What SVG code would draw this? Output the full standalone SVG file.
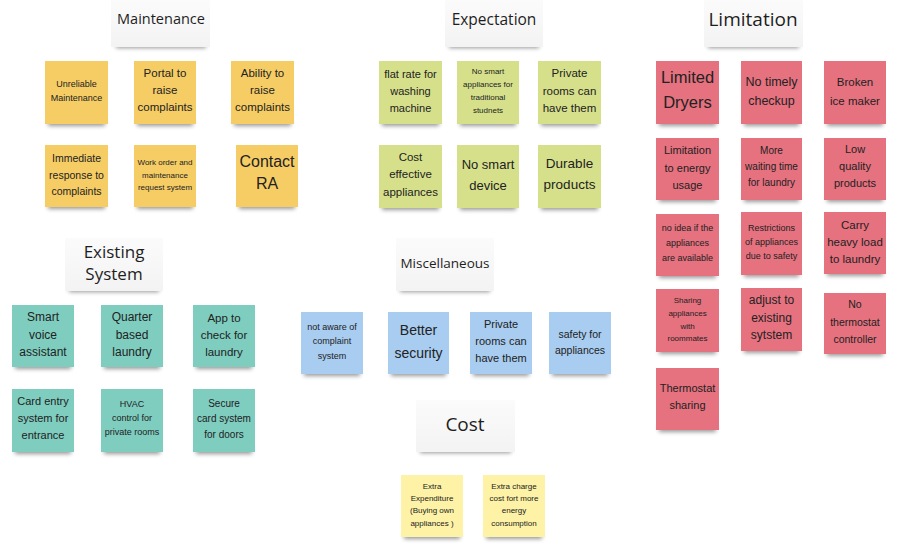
<svg xmlns="http://www.w3.org/2000/svg" width="899" height="545" viewBox="0 0 899 545">
<defs>
<filter id="blur" x="-20%" y="-100%" width="140%" height="300%"><feGaussianBlur stdDeviation="2.2"/></filter>
<linearGradient id="hg" x1="0" y1="0" x2="0" y2="1"><stop offset="0" stop-color="#fbfbfb"/><stop offset="1" stop-color="#f3f3f3"/></linearGradient>
</defs>
<style>
.sh{fill:#000;opacity:.4;filter:url(#blur)}
.hd{fill:url(#hg)}
.ht{font-family:"Open Sans","Noto Sans",sans-serif;fill:#1e1e1e;text-anchor:middle}
.nt{font-family:"Liberation Sans","DejaVu Sans",sans-serif;fill:#222;text-anchor:middle}
.m{fill:#f6cd65}
.e{fill:#d6e08b}
.l{fill:#e6717f}
.x{fill:#7ecdbf}
.b{fill:#a8cdf1}
.c{fill:#fdf2a6}
</style>
<rect width="899" height="545" fill="#ffffff"/>

<!-- Headers -->
<g id="h-maintenance"><rect class="sh" x="116" y="42" width="90" height="6"/><rect class="hd" x="111" y="0" width="99" height="47"/><text class="ht" x="161" y="24" font-size="14.5">Maintenance</text></g>
<g id="h-expectation"><rect class="sh" x="449" y="42" width="90" height="6"/><rect class="hd" x="445" y="0" width="98" height="47"/><text class="ht" x="494" y="25" font-size="15.5">Expectation</text></g>
<g id="h-limitation"><rect class="sh" x="708" y="42" width="91" height="6"/><rect class="hd" x="704" y="0" width="99" height="47"/><text class="ht" x="753" y="26" font-size="19">Limitation</text></g>
<g id="h-existing"><rect class="sh" x="69" y="286" width="90" height="6"/><rect class="hd" x="65" y="238" width="98" height="53"/><text class="ht" x="114" y="258" font-size="17">Existing</text><text class="ht" x="114" y="280" font-size="17">System</text></g>
<g id="h-misc"><rect class="sh" x="400" y="286" width="90" height="6"/><rect class="hd" x="396" y="238" width="98" height="53"/><text class="ht" x="445" y="268" font-size="13.5">Miscellaneous</text></g>
<g id="h-cost"><rect class="sh" x="420" y="447" width="91" height="6"/><rect class="hd" x="416" y="400" width="99" height="52"/><text class="ht" x="465" y="431" font-size="19">Cost</text></g>

<!-- Maintenance -->
<g id="m1"><rect class="sh" x="48" y="119" width="57" height="7"/><rect class="m" x="45" y="61" width="63" height="63"/><text class="nt" font-size="9"><tspan x="76.5" y="87">Unreliable</tspan><tspan x="76.5" y="101">Maintenance</tspan></text></g>
<g id="m2"><rect class="sh" x="137" y="119" width="56" height="7"/><rect class="m" x="134" y="61" width="62" height="63"/><text class="nt" font-size="11.5"><tspan x="165" y="77">Portal to</tspan><tspan x="165" y="94">raise</tspan><tspan x="165" y="111">complaints</tspan></text></g>
<g id="m3"><rect class="sh" x="234" y="119" width="57" height="7"/><rect class="m" x="231" y="61" width="63" height="63"/><text class="nt" font-size="11.5"><tspan x="262.5" y="77">Ability to</tspan><tspan x="262.5" y="94">raise</tspan><tspan x="262.5" y="111">complaints</tspan></text></g>
<g id="m4"><rect class="sh" x="48" y="202" width="57" height="7"/><rect class="m" x="45" y="145" width="63" height="62"/><text class="nt" font-size="10.5"><tspan x="76.5" y="162">Immediate</tspan><tspan x="76.5" y="179">response to</tspan><tspan x="76.5" y="195">complaints</tspan></text></g>
<g id="m5"><rect class="sh" x="137" y="202" width="56" height="7"/><rect class="m" x="134" y="145" width="62" height="62"/><text class="nt" font-size="8"><tspan x="165" y="165">Work order and</tspan><tspan x="165" y="178">maintenance</tspan><tspan x="165" y="190">request system</tspan></text></g>
<g id="m6"><rect class="sh" x="239" y="202" width="56" height="7"/><rect class="m" x="236" y="145" width="62" height="62"/><text class="nt" font-size="16"><tspan x="267" y="167">Contact</tspan><tspan x="267" y="189">RA</tspan></text></g>

<!-- Expectation -->
<g id="e1"><rect class="sh" x="382" y="119" width="57" height="7"/><rect class="e" x="379" y="61" width="63" height="63"/><text class="nt" font-size="11"><tspan x="410.5" y="78">flat rate for</tspan><tspan x="410.5" y="95">washing</tspan><tspan x="410.5" y="112">machine</tspan></text></g>
<g id="e2"><rect class="sh" x="460" y="119" width="56" height="7"/><rect class="e" x="457" y="61" width="62" height="63"/><text class="nt" font-size="8"><tspan x="488" y="74">No smart</tspan><tspan x="488" y="87">appliances for</tspan><tspan x="488" y="100">traditional</tspan><tspan x="488" y="113">studnets</tspan></text></g>
<g id="e3"><rect class="sh" x="541" y="119" width="57" height="7"/><rect class="e" x="538" y="61" width="63" height="63"/><text class="nt" font-size="11.5"><tspan x="569.5" y="77">Private</tspan><tspan x="569.5" y="95">rooms can</tspan><tspan x="569.5" y="112">have them</tspan></text></g>
<g id="e4"><rect class="sh" x="382" y="203" width="57" height="7"/><rect class="e" x="379" y="145" width="63" height="63"/><text class="nt" font-size="11.5"><tspan x="410.5" y="161">Cost</tspan><tspan x="410.5" y="178">effective</tspan><tspan x="410.5" y="196">appliances</tspan></text></g>
<g id="e5"><rect class="sh" x="460" y="203" width="56" height="7"/><rect class="e" x="457" y="145" width="62" height="63"/><text class="nt" font-size="13"><tspan x="488" y="169">No smart</tspan><tspan x="488" y="190">device</tspan></text></g>
<g id="e6"><rect class="sh" x="541" y="203" width="57" height="7"/><rect class="e" x="538" y="145" width="63" height="63"/><text class="nt" font-size="13.5"><tspan x="569.5" y="168">Durable</tspan><tspan x="569.5" y="189">products</tspan></text></g>

<!-- Limitation -->
<g id="l1"><rect class="sh" x="659" y="119" width="57" height="7"/><rect class="l" x="656" y="61" width="63" height="63"/><text class="nt" font-size="16.5"><tspan x="687.5" y="83">Limited</tspan><tspan x="687.5" y="108">Dryers</tspan></text></g>
<g id="l2"><rect class="sh" x="744" y="119" width="55" height="7"/><rect class="l" x="741" y="61" width="61" height="63"/><text class="nt" font-size="12.5"><tspan x="771.5" y="86">No timely</tspan><tspan x="771.5" y="105">checkup</tspan></text></g>
<g id="l3"><rect class="sh" x="827" y="119" width="56" height="7"/><rect class="l" x="824" y="61" width="62" height="63"/><text class="nt" font-size="11.5"><tspan x="855" y="86">Broken</tspan><tspan x="855" y="105">ice maker</tspan></text></g>
<g id="l4"><rect class="sh" x="659" y="195" width="57" height="7"/><rect class="l" x="656" y="138" width="63" height="62"/><text class="nt" font-size="11"><tspan x="687.5" y="154">Limitation</tspan><tspan x="687.5" y="172">to energy</tspan><tspan x="687.5" y="189">usage</tspan></text></g>
<g id="l5"><rect class="sh" x="744" y="195" width="55" height="7"/><rect class="l" x="741" y="138" width="61" height="62"/><text class="nt" font-size="10"><tspan x="771.5" y="154">More</tspan><tspan x="771.5" y="170">waiting time</tspan><tspan x="771.5" y="186">for laundry</tspan></text></g>
<g id="l6"><rect class="sh" x="827" y="195" width="56" height="7"/><rect class="l" x="824" y="138" width="62" height="62"/><text class="nt" font-size="11"><tspan x="855" y="153">Low</tspan><tspan x="855" y="170">quality</tspan><tspan x="855" y="187">products</tspan></text></g>
<g id="l7"><rect class="sh" x="659" y="271" width="57" height="7"/><rect class="l" x="656" y="214" width="63" height="62"/><text class="nt" font-size="9"><tspan x="687.5" y="231">no idea if the</tspan><tspan x="687.5" y="246">appliances</tspan><tspan x="687.5" y="261">are available</tspan></text></g>
<g id="l8"><rect class="sh" x="744" y="270" width="55" height="7"/><rect class="l" x="741" y="212" width="61" height="63"/><text class="nt" font-size="9"><tspan x="771.5" y="231">Restrictions</tspan><tspan x="771.5" y="245">of appliances</tspan><tspan x="771.5" y="259">due to safety</tspan></text></g>
<g id="l9"><rect class="sh" x="827" y="269" width="56" height="7"/><rect class="l" x="824" y="212" width="62" height="62"/><text class="nt" font-size="11.5"><tspan x="855" y="229">Carry</tspan><tspan x="855" y="246">heavy load</tspan><tspan x="855" y="263">to laundry</tspan></text></g>
<g id="l10"><rect class="sh" x="659" y="347" width="57" height="7"/><rect class="l" x="656" y="289" width="63" height="63"/><text class="nt" font-size="8"><tspan x="687.5" y="303">Sharing</tspan><tspan x="687.5" y="316">appliances</tspan><tspan x="687.5" y="329">with</tspan><tspan x="687.5" y="341">roommates</tspan></text></g>
<g id="l11"><rect class="sh" x="744" y="346" width="55" height="7"/><rect class="l" x="741" y="288" width="61" height="63"/><text class="nt" font-size="12"><tspan x="771.5" y="304">adjust to</tspan><tspan x="771.5" y="322">existing</tspan><tspan x="771.5" y="339">sytstem</tspan></text></g>
<g id="l12"><rect class="sh" x="827" y="349" width="56" height="7"/><rect class="l" x="824" y="293" width="62" height="61"/><text class="nt" font-size="10.5"><tspan x="855" y="308">No</tspan><tspan x="855" y="326">thermostat</tspan><tspan x="855" y="343">controller</tspan></text></g>
<g id="l13"><rect class="sh" x="659" y="425" width="57" height="7"/><rect class="l" x="656" y="368" width="63" height="62"/><text class="nt" font-size="11"><tspan x="687.5" y="392">Thermostat</tspan><tspan x="687.5" y="409">sharing</tspan></text></g>

<!-- Existing System -->
<g id="x1"><rect class="sh" x="15" y="362" width="56" height="7"/><rect class="x" x="12" y="305" width="62" height="62"/><text class="nt" font-size="12"><tspan x="43" y="321">Smart</tspan><tspan x="43" y="339">voice</tspan><tspan x="43" y="356">assistant</tspan></text></g>
<g id="x2"><rect class="sh" x="104" y="362" width="56" height="7"/><rect class="x" x="101" y="305" width="62" height="62"/><text class="nt" font-size="12"><tspan x="132" y="321">Quarter</tspan><tspan x="132" y="339">based</tspan><tspan x="132" y="356">laundry</tspan></text></g>
<g id="x3"><rect class="sh" x="196" y="362" width="56" height="7"/><rect class="x" x="193" y="305" width="62" height="62"/><text class="nt" font-size="11.5"><tspan x="224" y="322">App to</tspan><tspan x="224" y="339">check for</tspan><tspan x="224" y="356">laundry</tspan></text></g>
<g id="x4"><rect class="sh" x="15" y="447" width="56" height="7"/><rect class="x" x="12" y="389" width="62" height="63"/><text class="nt" font-size="11"><tspan x="43" y="405">Card entry</tspan><tspan x="43" y="422">system for</tspan><tspan x="43" y="439">entrance</tspan></text></g>
<g id="x5"><rect class="sh" x="104" y="447" width="56" height="7"/><rect class="x" x="101" y="389" width="62" height="63"/><text class="nt" font-size="9"><tspan x="132" y="407">HVAC</tspan><tspan x="132" y="421">control for</tspan><tspan x="132" y="435">private rooms</tspan></text></g>
<g id="x6"><rect class="sh" x="196" y="447" width="56" height="7"/><rect class="x" x="193" y="389" width="62" height="63"/><text class="nt" font-size="10"><tspan x="224" y="407">Secure</tspan><tspan x="224" y="422">card system</tspan><tspan x="224" y="438">for doors</tspan></text></g>

<!-- Miscellaneous -->
<g id="b1"><rect class="sh" x="304" y="369" width="56" height="7"/><rect class="b" x="301" y="312" width="62" height="62"/><text class="nt" font-size="9"><tspan x="332" y="330">not aware of</tspan><tspan x="332" y="344">complaint</tspan><tspan x="332" y="359">system</tspan></text></g>
<g id="b2"><rect class="sh" x="391" y="369" width="55" height="7"/><rect class="b" x="388" y="312" width="61" height="62"/><text class="nt" font-size="14"><tspan x="418.5" y="335">Better</tspan><tspan x="418.5" y="358">security</tspan></text></g>
<g id="b3"><rect class="sh" x="473" y="369" width="56" height="7"/><rect class="b" x="470" y="312" width="62" height="62"/><text class="nt" font-size="11"><tspan x="501" y="328">Private</tspan><tspan x="501" y="345">rooms can</tspan><tspan x="501" y="362">have them</tspan></text></g>
<g id="b4"><rect class="sh" x="552" y="369" width="56" height="7"/><rect class="b" x="549" y="312" width="62" height="62"/><text class="nt" font-size="10.5"><tspan x="580" y="338">safety for</tspan><tspan x="580" y="354">appliances</tspan></text></g>

<!-- Cost -->
<g id="c1"><rect class="sh" x="404" y="532" width="56" height="7"/><rect class="c" x="401" y="475" width="62" height="62"/><text class="nt" font-size="8"><tspan x="432" y="489">Extra</tspan><tspan x="432" y="501">Expenditure</tspan><tspan x="432" y="513">(Buying own</tspan><tspan x="432" y="526">appliances )</tspan></text></g>
<g id="c2"><rect class="sh" x="486" y="532" width="56" height="7"/><rect class="c" x="483" y="475" width="62" height="62"/><text class="nt" font-size="8"><tspan x="514" y="489">Extra charge</tspan><tspan x="514" y="501">cost fort more</tspan><tspan x="514" y="513">energy</tspan><tspan x="514" y="526">consumption</tspan></text></g>

<g id="connectors"/>
</svg>
